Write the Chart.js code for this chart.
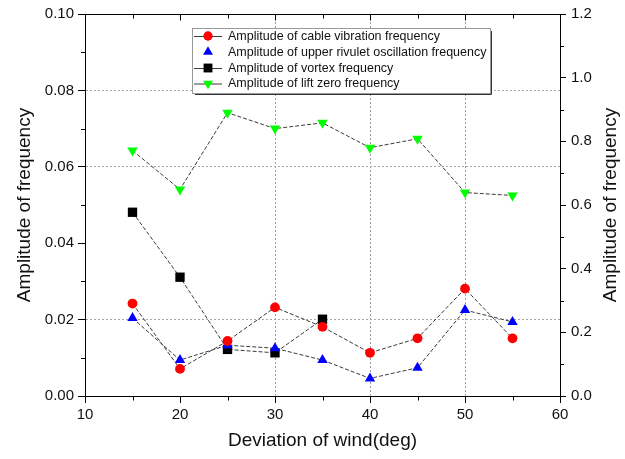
<!DOCTYPE html>
<html>
<head>
<meta charset="utf-8">
<script src="https://cdn.jsdelivr.net/npm/chart.js@4/dist/chart.umd.min.js"></script>
<style>
  html, body { margin: 0; padding: 0; background: #ffffff; }
  #wrap { position: relative; width: 625px; height: 459px; }
</style>
</head>
<body>
<div id="wrap"><canvas id="c" width="625" height="459"></canvas></div>
<script>
// ---- data ----
const deviationDeg = [15, 20, 25, 30, 35, 40, 45, 50, 55];
const vortexDeg = [15, 20, 25, 30, 35];
const cableVibration = [0.0242, 0.0071, 0.0144, 0.0232, 0.0181, 0.0113, 0.0151, 0.0281, 0.0151];
const rivuletOscillation = [0.0204, 0.0094, 0.0133, 0.0125, 0.0094, 0.0046, 0.0074, 0.0225, 0.0194];
const vortexFrequency = [0.0481, 0.0311, 0.0122, 0.0113, 0.0201];
const liftZero = [0.771, 0.649, 0.890, 0.840, 0.858, 0.780, 0.808, 0.639, 0.630];
const seriesNames = [
  'Amplitude of cable vibration frequency',
  'Amplitude of upper rivulet oscillation frequency',
  'Amplitude of vortex frequency',
  'Amplitude of lift zero frequency'
];
const xTitle = 'Deviation of wind(deg)';
const yTitle = 'Amplitude of frequency';
const y1Title = 'Amplitude of frequency';
const xGridValues = [30, 40, 50];
const yGridValues = [0.02, 0.06, 0.08];

const FONT = "'Liberation Sans', Arial, sans-serif";
const LINE = '#3a3a3a';
const TITLE_SIZE = 19;

function pts(xs, ys) { return xs.map((x, i) => ({ x: x, y: ys[i] })); }

const styles = [
  { color: '#ff0000', pointStyle: 'circle', radius: 4.9, rotation: 0, legendLine: true },
  { color: '#0000ff', pointStyle: 'triangle', radius: 6, rotation: 0, legendLine: false },
  { color: '#000000', pointStyle: 'rect', radius: 6.6, rotation: 0, legendLine: true },
  { color: '#00ff00', pointStyle: 'triangle', radius: 6, rotation: 180, legendLine: true }
];

function ds(i, data, axis) {
  const s = styles[i];
  return {
    label: seriesNames[i],
    data: data,
    yAxisID: axis,
    borderColor: LINE,
    borderWidth: 1,
    borderDash: [4, 2],
    backgroundColor: s.color,
    pointBackgroundColor: s.color,
    pointBorderColor: s.color,
    pointBorderWidth: 0,
    pointStyle: s.pointStyle,
    pointRadius: s.radius,
    pointRotation: s.rotation,
    tension: 0,
    fill: false
  };
}

const framePlugin = {
  id: 'frame',
  afterDraw(chart) {
    const ctx = chart.ctx;
    const a = chart.chartArea;
    const xs = chart.scales.x, yl = chart.scales.y, yr = chart.scales.y1;
    ctx.save();
    ctx.strokeStyle = '#000';
    ctx.lineWidth = 1;
    ctx.setLineDash([]);
    // top frame line
    const top = Math.round(a.top) + 0.5;
    ctx.beginPath();
    ctx.moveTo(a.left, top); ctx.lineTo(a.right + 0.5, top);
    ctx.stroke();
    // top ticks (inward) and bottom minor ticks
    for (let v = 10; v <= 60; v += 5) {
      const px = Math.round(xs.getPixelForValue(v)) + 0.5;
      const major = v % 10 === 0;
      ctx.beginPath();
      ctx.moveTo(px, top); ctx.lineTo(px, top + (major ? 6 : 4));
      ctx.stroke();
      if (!major) {
        const b = Math.round(a.bottom) + 0.5;
        ctx.beginPath();
        ctx.moveTo(px, b); ctx.lineTo(px, b + 4);
        ctx.stroke();
      }
    }
    // left minor ticks
    for (let k = 1; k < 10; k += 2) {
      const py = Math.round(yl.getPixelForValue(k / 100)) + 0.5;
      ctx.beginPath();
      ctx.moveTo(a.left, py); ctx.lineTo(a.left - 4, py);
      ctx.stroke();
    }
    // right minor ticks
    for (let k = 1; k < 12; k += 2) {
      const py = Math.round(yr.getPixelForValue(k / 10)) + 0.5;
      ctx.beginPath();
      ctx.moveTo(a.right, py); ctx.lineTo(a.right + 4, py);
      ctx.stroke();
    }
    // right axis title (reads bottom to top, like the left one)
    ctx.save();
    ctx.translate(611, (a.top + a.bottom) / 2);
    ctx.rotate(-Math.PI / 2);
    ctx.font = TITLE_SIZE + 'px ' + FONT;
    ctx.fillStyle = '#111';
    ctx.textAlign = 'center';
    ctx.textBaseline = 'middle';
    ctx.fillText(y1Title, 0, 0);
    ctx.restore();
    // legend box
    const bx = 192, by = 28, bw = 298, bh = 65;
    ctx.fillStyle = '#ffffff';
    ctx.fillRect(bx, by, bw, bh);
    ctx.strokeStyle = '#9a9a9a';
    ctx.strokeRect(bx + 0.5, by + 0.5, bw, bh);
    ctx.strokeStyle = '#333';
    ctx.beginPath();
    ctx.moveTo(bx + bw + 1.5, by + 3); ctx.lineTo(bx + bw + 1.5, by + bh + 1.5); ctx.lineTo(bx + 3, by + bh + 1.5);
    ctx.stroke();
    ctx.font = '12.5px ' + FONT;
    ctx.textBaseline = 'middle';
    ctx.textAlign = 'left';
    const rowY = [36, 52, 68, 83.5];
    for (let i = 0; i < 4; i++) {
      const s = styles[i];
      const y = rowY[i];
      if (s.legendLine) {
        ctx.strokeStyle = LINE;
        ctx.beginPath();
        ctx.moveTo(194, y + 0.5); ctx.lineTo(222, y + 0.5);
        ctx.stroke();
      }
      ctx.fillStyle = s.color;
      ctx.strokeStyle = s.color;
      Chart.helpers.drawPoint(ctx, { pointStyle: s.pointStyle, radius: s.radius * 0.95, rotation: s.rotation, borderWidth: 0 }, 208, y);
      ctx.fillStyle = '#111';
      ctx.fillText(seriesNames[i], 228, y + 0.5);
    }
    ctx.restore();
  }
};

function near(v, list) { return list.some(g => Math.abs(g - v) < 1e-6); }

new Chart(document.getElementById('c'), {
  type: 'line',
  data: {
    datasets: [
      ds(0, pts(deviationDeg, cableVibration), 'y'),
      ds(1, pts(deviationDeg, rivuletOscillation), 'y'),
      ds(2, pts(vortexDeg, vortexFrequency), 'y'),
      ds(3, pts(deviationDeg, liftZero), 'y1')
    ]
  },
  options: {
    responsive: false,
    animation: false,
    devicePixelRatio: 1,
    layout: { padding: { top: 13, left: 0, right: 0, bottom: 0 } },
    plugins: { legend: { display: false }, tooltip: { enabled: false } },
    scales: {
      x: {
        type: 'linear', min: 10, max: 60,
        afterFit(s) { s.height = 63; },
        ticks: { stepSize: 10, color: '#111', font: { family: FONT, size: 15 }, padding: 3, maxRotation: 0 },
        grid: {
          color: c => near(c.tick.value, xGridValues) ? '#9a9aa8' : 'rgba(0,0,0,0)',
          lineWidth: 1, tickColor: '#000', tickLength: 7, tickBorderDash: []
        },
        border: { display: true, color: '#000', width: 1, dash: [2, 2] },
        title: { display: true, text: xTitle, color: '#111', font: { family: FONT, size: TITLE_SIZE }, padding: { top: 0, bottom: 7 } }
      },
      y: {
        type: 'linear', position: 'left', min: 0, max: 0.1,
        afterFit(s) { s.width = 85; },
        ticks: { stepSize: 0.02, color: '#111', font: { family: FONT, size: 15 }, padding: 4, callback: v => v.toFixed(2) },
        grid: {
          color: c => near(c.tick.value, yGridValues) ? '#a8a8a8' : 'rgba(0,0,0,0)',
          lineWidth: 1, tickColor: '#000', tickLength: 7, tickBorderDash: []
        },
        border: { display: true, color: '#000', width: 1, dash: [2, 2] },
        title: { display: true, text: yTitle, color: '#111', font: { family: FONT, size: TITLE_SIZE }, padding: { top: 13, bottom: 0 } }
      },
      y1: {
        type: 'linear', position: 'right', min: 0, max: 1.2,
        afterFit(s) { s.width = 65; },
        ticks: { stepSize: 0.2, color: '#111', font: { family: FONT, size: 15 }, padding: 5, callback: v => v.toFixed(1) },
        grid: { drawOnChartArea: false, color: '#000', lineWidth: 1, tickColor: '#000', tickLength: 6, tickBorderDash: [] },
        border: { display: true, color: '#000', width: 1 },
        title: { display: false }
      }
    }
  },
  plugins: [framePlugin]
});
</script>
</body>
</html>
